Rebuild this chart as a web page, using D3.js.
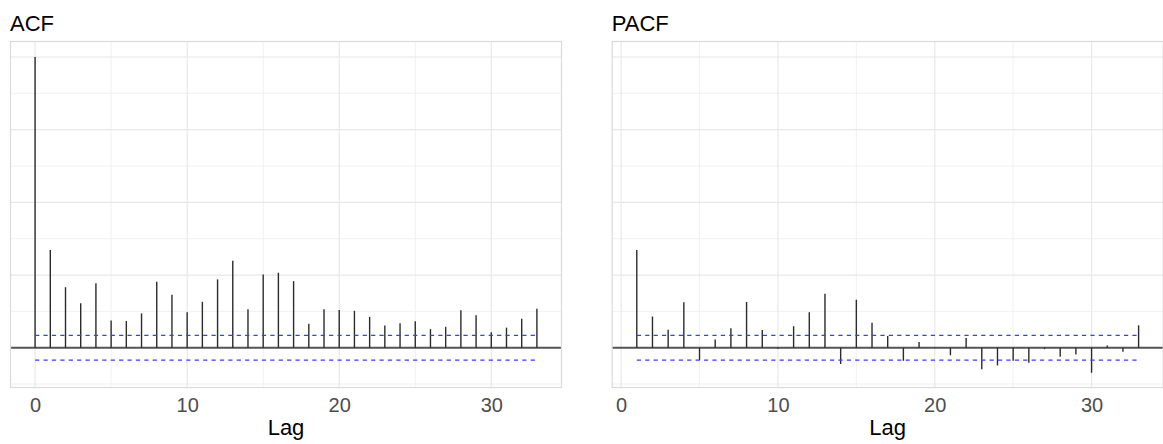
<!DOCTYPE html>
<html>
<head>
<meta charset="utf-8">
<script src="https://cdn.jsdelivr.net/npm/d3@7"></script>
<style>
  html, body { margin: 0; padding: 0; background: #fff; }
  svg { display: block; font-family: "Liberation Sans", Arial, sans-serif; }
</style>
</head>
<body>
<svg id="chart" width="1163" height="444"></svg>
<script>
// ---- data ----
const acfLags = d3.range(0, 34);
const acfValues = [1.000, 0.336, 0.208, 0.153, 0.222, 0.094, 0.092, 0.118, 0.227, 0.182,
  0.122, 0.158, 0.235, 0.299, 0.132, 0.252, 0.258, 0.229, 0.082, 0.132,
  0.130, 0.127, 0.106, 0.076, 0.084, 0.091, 0.064, 0.072, 0.129, 0.112,
  0.053, 0.069, 0.100, 0.134];
const pacfLags = d3.range(1, 34);
const pacfValues = [0.336, 0.107, 0.062, 0.156, -0.042, 0.028, 0.067, 0.157, 0.061, -0.004,
  0.074, 0.122, 0.186, -0.056, 0.165, 0.086, 0.040, -0.045, 0.020, 0.002,
  -0.026, 0.033, -0.074, -0.061, -0.045, -0.052, -0.005, -0.031, -0.023, -0.086,
  0.008, -0.014, 0.077];
const ciBound = 0.0427;
const xTicks = [0, 10, 20, 30];
const xMinor = [5, 15, 25];
const yMajor = [0, 0.25, 0.5, 0.75, 1.0];
const yMinor = [-0.125, 0.125, 0.375, 0.625, 0.875];

(function () {
const panels = [
  { title: "ACF", lags: acfLags, values: acfValues, left: 10, right: 562 },
  { title: "PACF", lags: pacfLags, values: pacfValues, left: 611.7, right: 1163.7 }
];

const svg = d3.select("#chart");
const pTop = 41, pBottom = 388;
const y = d3.scaleLinear().domain([-0.1386, 1.055]).range([pBottom, pTop]);

panels.forEach((p, i) => {
  const lo = d3.min(p.lags), hi = d3.max(p.lags);
  const pad = (hi - lo) * 0.05;
  const x = d3.scaleLinear().domain([lo - pad, hi + pad]).range([p.left, p.right]);
  const clipId = "clip" + i;
  svg.append("clipPath").attr("id", clipId).append("rect")
    .attr("x", p.left).attr("y", pTop).attr("width", p.right - p.left).attr("height", pBottom - pTop);

  const g = svg.append("g");
  const inner = g.append("g").attr("clip-path", `url(#${clipId})`);

  // minor grid
  inner.selectAll(".vminor").data(xMinor).join("line")
    .attr("x1", d => x(d)).attr("x2", d => x(d)).attr("y1", pTop).attr("y2", pBottom)
    .attr("stroke", "#f1f1f1").attr("stroke-width", 1);
  inner.selectAll(".hminor").data(yMinor).join("line")
    .attr("x1", p.left).attr("x2", p.right).attr("y1", d => y(d)).attr("y2", d => y(d))
    .attr("stroke", "#f1f1f1").attr("stroke-width", 1);
  // major grid
  inner.selectAll(".vmajor").data(xTicks).join("line")
    .attr("x1", d => x(d)).attr("x2", d => x(d)).attr("y1", pTop).attr("y2", pBottom)
    .attr("stroke", "#e8e8e8").attr("stroke-width", 1.2);
  inner.selectAll(".hmajor").data(yMajor).join("line")
    .attr("x1", p.left).attr("x2", p.right).attr("y1", d => y(d)).attr("y2", d => y(d))
    .attr("stroke", "#e8e8e8").attr("stroke-width", 1.2);

  // zero line
  inner.append("line")
    .attr("x1", p.left).attr("x2", p.right).attr("y1", y(0)).attr("y2", y(0))
    .attr("stroke", "#555").attr("stroke-width", 2);

  // stems
  inner.selectAll(".stem").data(p.lags.map((l, k) => ({ lag: l, v: p.values[k] }))).join("line")
    .attr("x1", d => x(d.lag)).attr("x2", d => x(d.lag))
    .attr("y1", y(0)).attr("y2", d => y(d.v))
    .attr("stroke", "#2b2b2b").attr("stroke-width", 1.4);

  // confidence bounds
  [ciBound, -ciBound].forEach(c => {
    inner.append("line")
      .attr("x1", x(lo)).attr("x2", x(hi)).attr("y1", y(c)).attr("y2", y(c))
      .attr("stroke", "#3b3bff").attr("stroke-width", 1.3)
      .attr("stroke-dasharray", "4.2,4.2");
  });

  // border
  g.append("rect")
    .attr("x", p.left + 0.5).attr("y", pTop + 0.5)
    .attr("width", p.right - p.left - 1).attr("height", pBottom - pTop - 1)
    .attr("fill", "none").attr("stroke", "#dadada").attr("stroke-width", 1.2);

  // x axis labels
  const axis = d3.axisBottom(x).tickValues(xTicks).tickSize(0).tickPadding(0).tickFormat(d3.format("d"));
  const ag = g.append("g").attr("transform", `translate(0,${pBottom})`).call(axis);
  ag.select(".domain").remove();
  ag.selectAll("text")
    .attr("y", 23.5).attr("dy", null)
    .attr("font-size", 20).attr("fill", "#4d4d4d")
    .attr("font-family", "Liberation Sans, Arial, sans-serif");

  // axis title
  g.append("text")
    .attr("x", (p.left + p.right) / 2).attr("y", 435)
    .attr("text-anchor", "middle").attr("font-size", 22).attr("fill", "#000")
    .text("Lag");

  // panel title
  g.append("text")
    .attr("x", p.left).attr("y", 31)
    .attr("font-size", 22).attr("fill", "#000")
    .text(p.title);
});
})();
</script>
</body>
</html>
